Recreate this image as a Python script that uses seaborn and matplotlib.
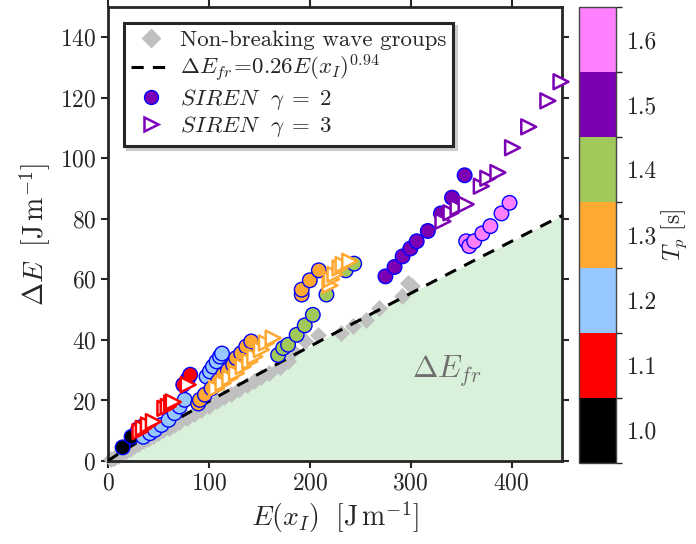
import numpy as np
import pandas as pd
import matplotlib
matplotlib.use("Agg")
import matplotlib.pyplot as plt
import seaborn as sns
from matplotlib.colors import ListedColormap, BoundaryNorm
from matplotlib.lines import Line2D

# ---------------- data ----------------
tp_levels = [1.0, 1.1, 1.2, 1.3, 1.4, 1.5, 1.6]
tp_colors = ["#000000", "#ff0000", "#96c8ff", "#ffa832", "#a0c85a", "#7b00b4", "#ff80ff"]

# Non-breaking wave groups (grey diamonds)
nb_x = [3, 6, 10, 14, 18, 22, 26, 30, 35, 40, 45, 50, 55, 60, 65, 70, 78, 85, 92, 100,
        108, 115, 122, 130, 138, 145, 152, 160, 170, 178, 183.5, 195, 208, 231, 243, 256,
        269, 291, 297, 301]
nb_y = [0.5, 1.0, 1.8, 2.6, 3.3, 4.0, 4.8, 5.6, 6.5, 7.4, 8.3, 9.2, 10.1, 11.0, 12.0, 12.9,
        14.3, 15.6, 16.8, 18.3, 19.7, 21.0, 22.3, 23.8, 25.2, 26.5, 27.8, 29.2, 31.0, 33.0,
        36.2, 39.5, 41.7, 42.3, 44.5, 46.7, 50.5, 54.4, 58.8, 57.7]

# SIREN gamma = 2 (circles)
g2_tp = ([1.0] * 3 + [1.1] * 5 + [1.2] * 14 + [1.3] * 16 + [1.4] * 9 + [1.5] * 9 + [1.6] * 7)
g2_x = [14.5, 23.4, 31.7,
        30, 35, 74.6, 79, 81.5,
        35, 41.6, 46.5, 53, 60, 66, 71, 76, 97.7, 101, 104, 107.6, 111, 113,
        89.4, 91, 96, 102.6, 109, 114, 119, 124, 127, 132, 137, 142, 192, 192, 200, 209,
        168.6, 173.6, 178.5, 187, 195, 203, 216.5, 235.6, 244,
        275, 284, 292, 299.7, 306, 317, 330, 341, 353.5,
        355, 358, 363, 371, 379, 390, 398]
g2_y = [4.5, 8.0, 11.0,
        10.5, 11.5, 25.2, 27.0, 28.5,
        8.0, 9.2, 10.3, 11.9, 13.6, 15.8, 18.0, 20.2, 27.9, 29.6, 31.2, 32.9, 34.5, 35.5,
        19.0, 20.2, 21.9, 24.0, 26.3, 28.5, 30.0, 31.8, 34.0, 35.6, 37.8, 39.5, 55.0, 56.6, 59.7, 63.0,
        35.0, 37.3, 38.4, 41.7, 44.8, 48.3, 55.0, 63.0, 65.2,
        61.0, 64.1, 67.6, 70.2, 72.6, 76.0, 81.8, 87.0, 94.4,
        72.6, 71.0, 72.6, 75.2, 77.6, 81.8, 85.3]

# SIREN gamma = 3 (open triangles)
g3_tp = ([1.1] * 9 + [1.3] * 16 + [1.5] * 11)
g3_x = [31.7, 35, 40, 45, 56.4, 59.7, 63, 64.7, 79.5,
        107.6, 114, 120.8, 127.4, 134, 140.6, 145.5, 152, 157, 163.7, 220, 221.5, 225, 230, 233, 239.6,
        332, 340, 347, 355, 370, 376.5, 386.5, 401, 417, 436, 449]
g3_y = [9.7, 10.8, 11.9, 13.0, 17.4, 18.0, 19.1, 19.5, 25.2,
        24.0, 25.7, 27.4, 29.0, 31.2, 32.9, 34.5, 36.8, 39.0, 40.6, 58.0, 60.0, 61.6, 63.8, 64.9, 66.0,
        79.2, 82.0, 83.7, 84.8, 90.8, 93.4, 95.3, 103.5, 110.4, 119.0, 125.3]

fit_a, fit_b = 0.26, 0.94
x_max, y_max = 450, 150

# ---------------- style ----------------
sns.set_theme(style="ticks")
plt.rcParams["font.family"] = ["cmr10", "DejaVu Serif"]
plt.rcParams["mathtext.fontset"] = "cm"
plt.rcParams["axes.formatter.use_mathtext"] = True
plt.rcParams["axes.unicode_minus"] = False

fig = plt.figure(figsize=(6.96, 5.44), dpi=100)
ax = fig.add_axes([108 / 696, 83 / 544, 454 / 696, 454 / 544])
cax = fig.add_axes([579 / 696, 81 / 544, 36.5 / 696, 456 / 544])

cmap = ListedColormap(tp_colors)
bounds = [0.95, 1.05, 1.15, 1.25, 1.35, 1.45, 1.55, 1.65]
norm = BoundaryNorm(bounds, cmap.N)
palette = {t: c for t, c in zip(tp_levels, tp_colors)}

# fill region and fit line
fx = np.linspace(0, x_max, 300)
fy = fit_a * fx ** fit_b
ax.fill_between(fx, 0, fy, color="#d9f0da", lw=0, zorder=0)

df_nb = pd.DataFrame({"x": nb_x, "y": nb_y})
sns.scatterplot(data=df_nb, x="x", y="y", ax=ax, marker="D", s=65, color="#c0c0c0",
                edgecolor="#c0c0c0", linewidth=0.5, zorder=2, legend=False, clip_on=False)

df_fit = pd.DataFrame({"x": fx, "y": fy})
sns.lineplot(data=df_fit, x="x", y="y", ax=ax, color="black", lw=2.2, zorder=3)
ax.lines[-1].set_dashes([4, 3])

df2 = pd.DataFrame({"x": g2_x, "y": g2_y, "Tp": g2_tp})
sns.scatterplot(data=df2, x="x", y="y", hue="Tp", palette=palette, ax=ax, marker="o",
                s=110, edgecolor="#0000ff", linewidth=1.0, zorder=4, legend=False)

df3 = pd.DataFrame({"x": g3_x, "y": g3_y, "Tp": g3_tp})
sns.scatterplot(data=df3, x="x", y="y", hue="Tp", palette=palette, ax=ax, marker=">",
                s=115, linewidth=1.8, zorder=5, legend=False)
coll = ax.collections[-1]
coll.set_edgecolor(coll.get_facecolor())
coll.set_facecolor("white")
coll.set_clip_on(False)

ax.text(336, 30, r"$\Delta E_{fr}$", fontsize=22, color="#6e6e6e", ha="center", va="center")

ax.set_xlim(0, x_max)
ax.set_ylim(0, y_max)
ax.set_xticks([0, 100, 200, 300, 400])
ax.set_yticks([0, 20, 40, 60, 80, 100, 120, 140])
ax.set_xlabel(r"$E(x_I)\ \ [\mathrm{J\,m^{-1}}]$", fontsize=20, labelpad=3)
ax.set_ylabel(r"$\Delta E\ \ [\mathrm{J\,m^{-1}}]$", fontsize=20, labelpad=5)
ax.tick_params(axis="both", which="both", direction="out", length=5, width=1.5,
               labelsize=17, top=True, right=True, color="#262626")
for sp in ax.spines.values():
    sp.set_linewidth(2)
    sp.set_color("#262626")

handles = [
    Line2D([], [], marker="D", ls="none", color="#c0c0c0", markersize=9),
    Line2D([], [], ls=(0, (4, 3)), color="black", lw=2.2),
    Line2D([], [], marker="o", ls="none", markerfacecolor="#7b00b4",
           markeredgecolor="#0000ff", markersize=10),
    Line2D([], [], marker=">", ls="none", markerfacecolor="white",
           markeredgecolor="#8000c0", markeredgewidth=1.8, markersize=10),
]
labels = ["Non-breaking wave groups",
          r"$\Delta E_{fr}\!=\!0.26E(x_I)^{0.94}$",
          r"$SIREN\ \ \gamma\;=\;2$",
          r"$SIREN\ \ \gamma\;=\;3$"]
leg = ax.legend(handles, labels, loc="upper left", bbox_to_anchor=(0.035, 0.965),
                fontsize=16.5, frameon=True, fancybox=False, framealpha=1,
                edgecolor="#262626", handlelength=1.8, handletextpad=0.35,
                labelspacing=0.12, borderpad=0.3, borderaxespad=0,
                shadow={"color": "#cccccc", "alpha": 1})
leg.get_frame().set_linewidth(2.2)
leg.set_zorder(10)

sm = matplotlib.cm.ScalarMappable(norm=norm, cmap=cmap)
cb = fig.colorbar(sm, cax=cax, ticks=tp_levels)
cb.ax.set_yticklabels([f"{t:.1f}" for t in tp_levels])
cb.ax.tick_params(direction="in", length=4, width=1, labelsize=17, color="#444444", pad=8)
cb.outline.set_linewidth(1)
cb.outline.set_edgecolor("#444444")
cb.set_label(r"$T_p\ [\mathrm{s}]$", fontsize=17, labelpad=2)

fig.savefig("out.png", dpi=100)
